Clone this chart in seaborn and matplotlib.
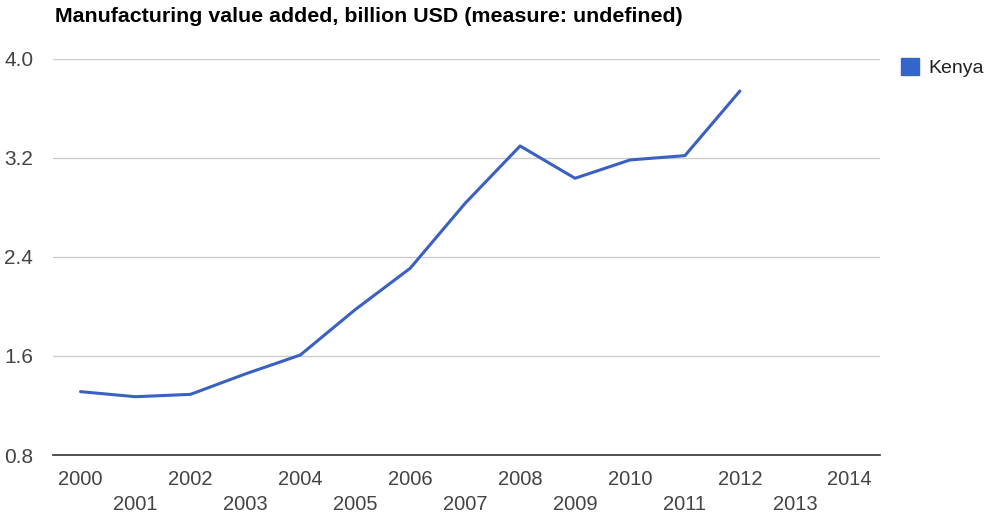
import matplotlib
matplotlib.use("Agg")
import matplotlib.pyplot as plt
import matplotlib.patches as mpatches
import seaborn as sns
import pandas as pd

years = [2000, 2001, 2002, 2003, 2004, 2005, 2006, 2007, 2008, 2009, 2010, 2011, 2012]
kenya = [1.312, 1.271, 1.290, 1.455, 1.608, 1.975, 2.309, 2.834, 3.297, 3.036, 3.184, 3.219, 3.741]
y_ticks = [0.8, 1.6, 2.4, 3.2, 4.0]
x_ticks = list(range(2000, 2015))
title = "Manufacturing value added, billion USD (measure: undefined)"
series_name = "Kenya"

sns.set_theme(style="white")
plt.rcParams['font.family'] = ['Liberation Sans', 'DejaVu Sans']

df = pd.DataFrame({"year": years, "value": kenya, "country": series_name})

fig = plt.figure(figsize=(9.86, 5.15), dpi=100)
ax = fig.add_axes([0.0538, 0.1165, 0.8387, 0.769])
sns.lineplot(data=df, x="year", y="value", ax=ax, color="#3a60c2", linewidth=2.2, legend=False)

ax.set_xlim(1999.5, 2014.55)
ax.set_ylim(0.8, 4.0)
ax.set_yticks(y_ticks)
ax.set_yticklabels([f"{v:.1f}" for v in y_ticks])
ax.set_xticks(x_ticks)
ax.set_xticklabels(["" for _ in x_ticks])
for i, yr in enumerate(x_ticks):
    ax.text(yr, -0.0606 if i % 2 == 0 else -0.126, str(yr), transform=ax.get_xaxis_transform(),
            ha="center", va="center", fontsize=14.5, color="#444444")
ax.tick_params(axis="both", length=0)
ax.tick_params(axis="y", labelsize=15, labelcolor="#444444", pad=35.3)
for lbl in ax.get_yticklabels():
    lbl.set_horizontalalignment("left")
ax.grid(axis="y", color="#cccccc", linewidth=1)
ax.set_axisbelow(True)
for s in ["top", "right", "left"]:
    ax.spines[s].set_visible(False)
ax.spines["bottom"].set_color("#333333")
ax.spines["bottom"].set_linewidth(1.2)
ax.set_xlabel("")
ax.set_ylabel("")

fig.text(55 / 986, 1 - 17 / 515, title, ha="left", va="center", fontsize=15.4, fontweight="bold", color="#000000")

handle = mpatches.Patch(color="#3366cc", label=series_name)
fig.legend(handles=[handle], loc="upper left", bbox_to_anchor=(901 / 986, 1 - 58 / 515), frameon=False,
           borderpad=0, borderaxespad=0, fontsize=14, handlelength=0.93, handleheight=0.93,
           handletextpad=0.46, labelcolor="#222222")

fig.savefig("out.png", dpi=100)
